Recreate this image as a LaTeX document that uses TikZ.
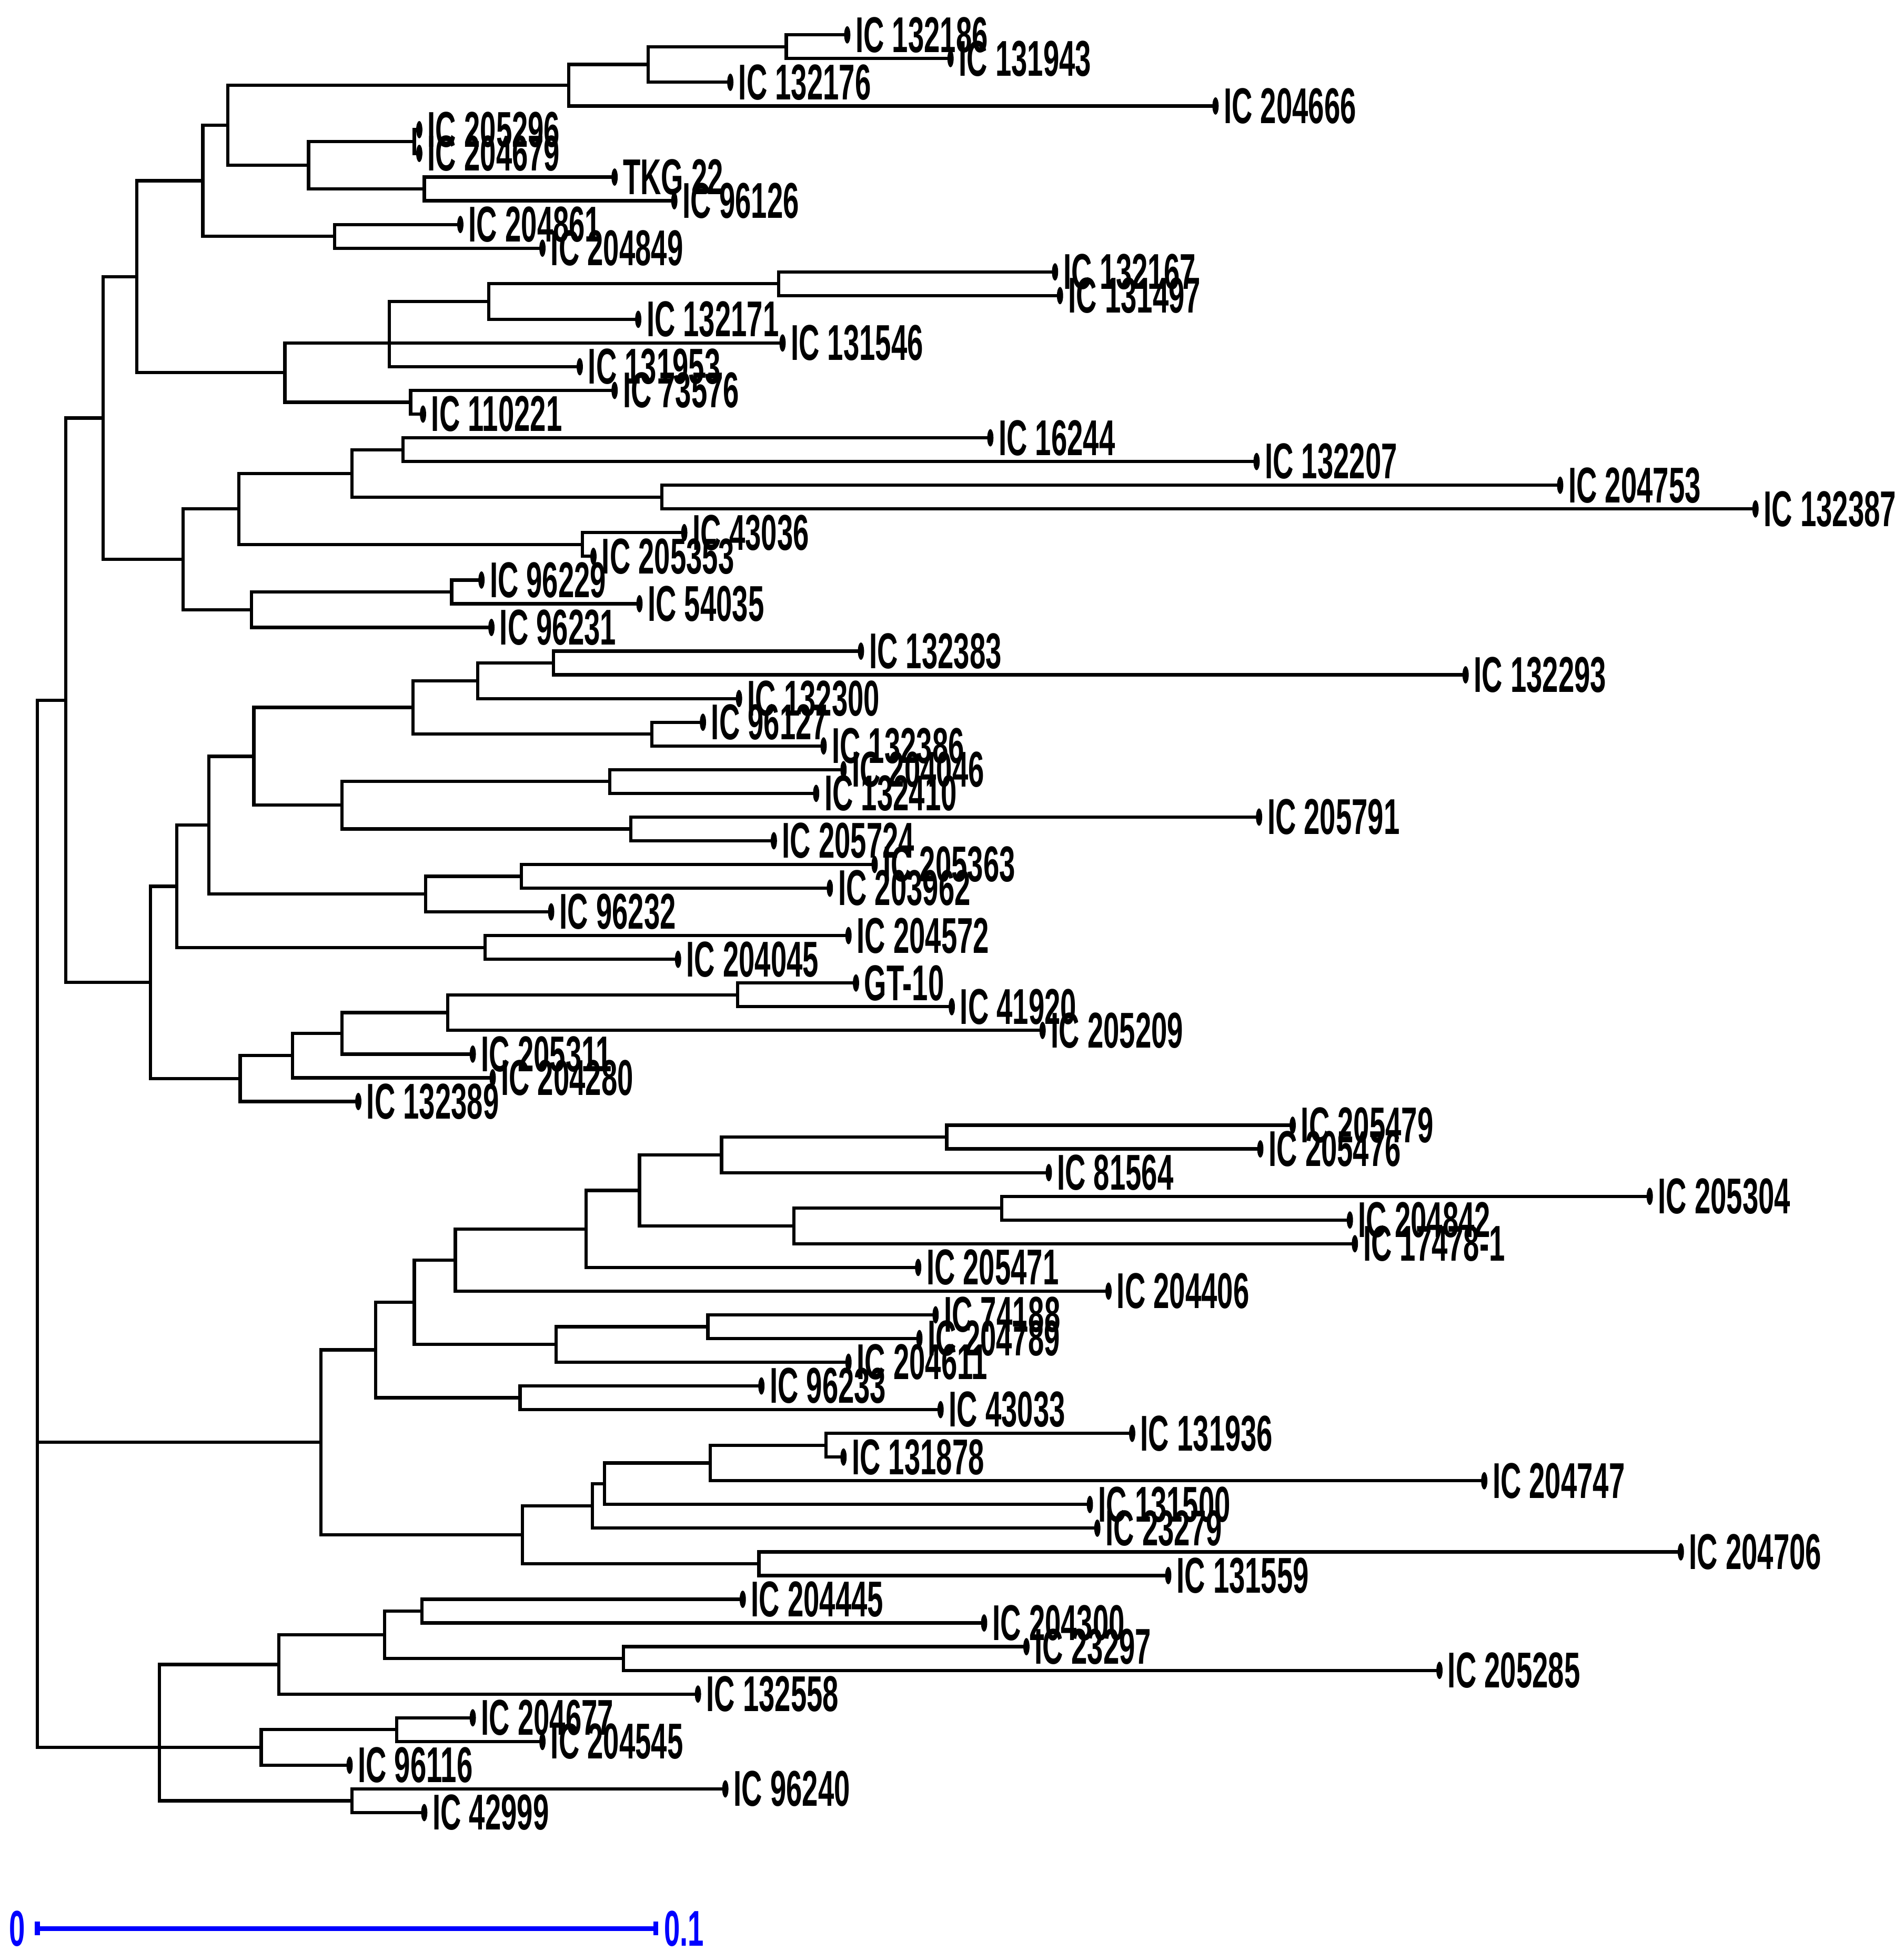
\documentclass[tikz,border=0pt]{standalone}
\usepackage{fontspec}
\setmainfont{Liberation Sans}
\usepackage{graphicx}
\usetikzlibrary{positioning,calc}

% leaf rows are evenly spaced
\newcommand{\row}[1]{28+19.05*#1}
\newcommand{\lbl}[1]{\scalebox{0.57}[1]{#1}}

\def\leaves{0/681/IC 132186, 1/764/IC 131943, 2/587/IC 132176, 3/977/IC 204666,
  4/337/IC 205296, 5/337/IC 204679, 6/494/TKG 22, 7/542/IC 96126,
  8/370/IC 204861, 9/436/IC 204849, 10/848/IC 132167, 11/852/IC 131497,
  12/513/IC 132171, 13/629/IC 131546, 14/466/IC 131953, 15/494/IC 73576,
  16/340/IC 110221, 17/796/IC 16244, 18/1010/IC 132207, 19/1254/IC 204753,
  20/1411/IC 132387, 21/550/IC 43036, 22/477/IC 205353, 23/387/IC 96229,
  24/514/IC 54035, 25/395/IC 96231, 26/692/IC 132383, 27/1178/IC 132293,
  28/594/IC 132300, 29/565/IC 96127, 30/662/IC 132386, 31/678/IC 204046,
  32/656/IC 132410, 33/1012/IC 205791, 34/622/IC 205724, 35/703/IC 205363,
  36/667/IC 203962, 37/443/IC 96232, 38/682/IC 204572, 39/545/IC 204045,
  40/688/GT-10, 41/765/IC 41920, 42/838/IC 205209, 43/380/IC 205311,
  44/396/IC 204280, 45/288/IC 132389, 46/1039/IC 205479, 47/1013/IC 205476,
  48/843/IC 81564, 49/1326/IC 205304, 50/1085/IC 204842, 51/1089/IC 17478-1,
  52/738/IC 205471, 53/891/IC 204406, 54/752/IC 74188, 55/739/IC 204789,
  56/682/IC 204611, 57/612/IC 96233, 58/756/IC 43033, 59/910/IC 131936,
  60/678/IC 131878, 61/1193/IC 204747, 62/876/IC 131500, 63/882/IC 23279,
  64/1351/IC 204706, 65/939/IC 131559, 66/597/IC 204445, 67/791/IC 204300,
  68/825/IC 23297, 69/1157/IC 205285, 70/561/IC 132558, 71/380/IC 204677,
  72/436/IC 204545, 73/281/IC 96116, 74/583/IC 96240, 75/341/IC 42999}

\begin{document}
\begin{tikzpicture}[x=0.01cm, y=-0.01cm,
    branch/.style={line width=0.75pt, line cap=rect},
    tipdot/.style={fill=black},
    leaf/.style={anchor=west, inner sep=0pt, xshift=0.06cm, font=\fontsize{11.5}{12}\selectfont\bfseries},
    scalebar/.style={blue, line width=1.1pt},
    barlabel/.style={blue, inner sep=0pt, font=\fontsize{11.5}{12}\selectfont\bfseries}]

    \useasboundingbox (0,0) rectangle (1530,1568);

    % Leaves and their names
    \foreach \i/\tx/\nm in \leaves {
        \coordinate (t\i) at (\tx,{\row{\i}});
        \node[leaf] (n\i) at (t\i) {\lbl{\nm}};
    }

    % Internal nodes
    \coordinate (root) at (30,{\row{59.38}});
    \coordinate (A) at (53,{\row{28.07}});
    \coordinate (B) at (83,{\row{16.164}});
    \coordinate (B1) at (110,{\row{10.203}});
    \coordinate (D) at (163,{\row{6.156}});
    \coordinate (D1) at (183,{\row{3.8125}});
    \coordinate (F) at (457,{\row{2.125}});
    \coordinate (F1) at (521,{\row{1.25}});
    \coordinate (F2) at (632,{\row{0.5}});
    \coordinate (G) at (248,{\row{5.5}});
    \coordinate (G1) at (333,{\row{4.5}});
    \coordinate (G2) at (341,{\row{6.5}});
    \coordinate (D2) at (269,{\row{8.5}});
    \coordinate (E) at (229,{\row{14.25}});
    \coordinate (I) at (313,{\row{13}});
    \coordinate (H) at (393,{\row{11.25}});
    \coordinate (H1) at (626,{\row{10.5}});
    \coordinate (J) at (330,{\row{15.5}});
    \coordinate (B2) at (147,{\row{22.125}});
    \coordinate (K) at (192,{\row{20}});
    \coordinate (M) at (283,{\row{18.5}});
    \coordinate (M1) at (324,{\row{17.5}});
    \coordinate (M2) at (532,{\row{19.5}});
    \coordinate (N) at (468,{\row{21.5}});
    \coordinate (L) at (202,{\row{24.25}});
    \coordinate (O) at (363,{\row{23.5}});
    \coordinate (C) at (121,{\row{39.98}});
    \coordinate (P) at (142,{\row{35.92}});
    \coordinate (R) at (168,{\row{33.34}});
    \coordinate (T) at (204,{\row{30.4375}});
    \coordinate (V) at (332,{\row{28.375}});
    \coordinate (V1) at (384,{\row{27.25}});
    \coordinate (V3) at (445,{\row{26.5}});
    \coordinate (V2) at (524,{\row{29.5}});
    \coordinate (W) at (275,{\row{32.5}});
    \coordinate (W1) at (490,{\row{31.5}});
    \coordinate (W2) at (507,{\row{33.5}});
    \coordinate (U) at (342,{\row{36.25}});
    \coordinate (U1) at (419,{\row{35.5}});
    \coordinate (S) at (390,{\row{38.5}});
    \coordinate (Q) at (193,{\row{44.03}});
    \coordinate (Q1) at (235,{\row{43.06}});
    \coordinate (Q2) at (275,{\row{42.125}});
    \coordinate (Q3) at (360,{\row{41.25}});
    \coordinate (Q4) at (593,{\row{40.5}});
    \coordinate (X) at (258,{\row{59.38}});
    \coordinate (X1) at (302,{\row{55.48}});
    \coordinate (X3) at (333,{\row{53.47}});
    \coordinate (X5) at (366,{\row{51.6875}});
    \coordinate (X7) at (471,{\row{50.375}});
    \coordinate (X8) at (514,{\row{48.75}});
    \coordinate (X9) at (580,{\row{47.25}});
    \coordinate (X11) at (761,{\row{46.5}});
    \coordinate (X10) at (638,{\row{50.25}});
    \coordinate (X12) at (805,{\row{49.5}});
    \coordinate (X6) at (447,{\row{55.25}});
    \coordinate (X13) at (569,{\row{54.5}});
    \coordinate (X4) at (418,{\row{57.5}});
    \coordinate (X2) at (420,{\row{63.28}});
    \coordinate (X14) at (476,{\row{62.06}});
    \coordinate (X16) at (486,{\row{61.125}});
    \coordinate (X17) at (571,{\row{60.25}});
    \coordinate (X18) at (664,{\row{59.5}});
    \coordinate (X15) at (610,{\row{64.5}});
    \coordinate (Y) at (128,{\row{72.25}});
    \coordinate (Y1) at (224,{\row{68.75}});
    \coordinate (Y4) at (309,{\row{67.5}});
    \coordinate (Y5) at (339,{\row{66.5}});
    \coordinate (Y6) at (501,{\row{68.5}});
    \coordinate (Y2) at (210,{\row{72.25}});
    \coordinate (Y7) at (319,{\row{71.5}});
    \coordinate (Y3) at (283,{\row{74.5}});

    % Root and first clade
    \draw[branch] (root) |- (A) (root) |- (X) (root) |- (Y);
    \draw[branch] (A) |- (B) (A) |- (C);
    \draw[branch] (B) |- (B1) (B) |- (B2);
    \draw[branch] (B1) |- (D) (B1) |- (E);
    \draw[branch] (D) |- (D1) (D) |- (D2);
    \draw[branch] (D1) |- (F) (D1) |- (G);
    \draw[branch] (F) |- (F1) (F) |- (t3);
    \draw[branch] (F1) |- (F2) (F1) |- (t2);
    \draw[branch] (F2) |- (t0) (F2) |- (t1);
    \draw[branch] (G) |- (G1) (G) |- (G2);
    \draw[branch] (G1) |- (t4) (G1) |- (t5);
    \draw[branch] (G2) |- (t6) (G2) |- (t7);
    \draw[branch] (D2) |- (t8) (D2) |- (t9);
    \draw[branch] (E) |- (I) (E) |- (J);
    \draw[branch] (I) |- (H) (I) |- (t13) (I) |- (t14);
    \draw[branch] (H) |- (H1) (H) |- (t12);
    \draw[branch] (H1) |- (t10) (H1) |- (t11);
    \draw[branch] (J) |- (t15) (J) |- (t16);
    \draw[branch] (B2) |- (K) (B2) |- (L);
    \draw[branch] (K) |- (M) (K) |- (N);
    \draw[branch] (M) |- (M1) (M) |- (M2);
    \draw[branch] (M1) |- (t17) (M1) |- (t18);
    \draw[branch] (M2) |- (t19) (M2) |- (t20);
    \draw[branch] (N) |- (t21) (N) |- (t22);
    \draw[branch] (L) |- (O) (L) |- (t25);
    \draw[branch] (O) |- (t23) (O) |- (t24);

    % Second part of the first clade
    \draw[branch] (C) |- (P) (C) |- (Q);
    \draw[branch] (P) |- (R) (P) |- (S);
    \draw[branch] (R) |- (T) (R) |- (U);
    \draw[branch] (T) |- (V) (T) |- (W);
    \draw[branch] (V) |- (V1) (V) |- (V2);
    \draw[branch] (V1) |- (V3) (V1) |- (t28);
    \draw[branch] (V3) |- (t26) (V3) |- (t27);
    \draw[branch] (V2) |- (t29) (V2) |- (t30);
    \draw[branch] (W) |- (W1) (W) |- (W2);
    \draw[branch] (W1) |- (t31) (W1) |- (t32);
    \draw[branch] (W2) |- (t33) (W2) |- (t34);
    \draw[branch] (U) |- (U1) (U) |- (t37);
    \draw[branch] (U1) |- (t35) (U1) |- (t36);
    \draw[branch] (S) |- (t38) (S) |- (t39);
    \draw[branch] (Q) |- (Q1) (Q) |- (t45);
    \draw[branch] (Q1) |- (Q2) (Q1) |- (t44);
    \draw[branch] (Q2) |- (Q3) (Q2) |- (t43);
    \draw[branch] (Q3) |- (Q4) (Q3) |- (t42);
    \draw[branch] (Q4) |- (t40) (Q4) |- (t41);

    % Middle clade
    \draw[branch] (X) |- (X1) (X) |- (X2);
    \draw[branch] (X1) |- (X3) (X1) |- (X4);
    \draw[branch] (X3) |- (X5) (X3) |- (X6);
    \draw[branch] (X5) |- (X7) (X5) |- (t53);
    \draw[branch] (X7) |- (X8) (X7) |- (t52);
    \draw[branch] (X8) |- (X9) (X8) |- (X10);
    \draw[branch] (X9) |- (X11) (X9) |- (t48);
    \draw[branch] (X11) |- (t46) (X11) |- (t47);
    \draw[branch] (X10) |- (X12) (X10) |- (t51);
    \draw[branch] (X12) |- (t49) (X12) |- (t50);
    \draw[branch] (X6) |- (X13) (X6) |- (t56);
    \draw[branch] (X13) |- (t54) (X13) |- (t55);
    \draw[branch] (X4) |- (t57) (X4) |- (t58);
    \draw[branch] (X2) |- (X14) (X2) |- (X15);
    \draw[branch] (X14) |- (X16) (X14) |- (t63);
    \draw[branch] (X16) |- (X17) (X16) |- (t62);
    \draw[branch] (X17) |- (X18) (X17) |- (t61);
    \draw[branch] (X18) |- (t59) (X18) |- (t60);
    \draw[branch] (X15) |- (t64) (X15) |- (t65);

    % Bottom clade
    \draw[branch] (Y) |- (Y1) (Y) |- (Y2) (Y) |- (Y3);
    \draw[branch] (Y1) |- (Y4) (Y1) |- (t70);
    \draw[branch] (Y4) |- (Y5) (Y4) |- (Y6);
    \draw[branch] (Y5) |- (t66) (Y5) |- (t67);
    \draw[branch] (Y6) |- (t68) (Y6) |- (t69);
    \draw[branch] (Y2) |- (Y7) (Y2) |- (t73);
    \draw[branch] (Y7) |- (t71) (Y7) |- (t72);
    \draw[branch] (Y3) |- (t74) (Y3) |- (t75);

    % Tip markers
    \foreach \i in {0,...,75}
        \fill[tipdot] (t\i) ellipse [x radius=0.025cm, y radius=0.07cm];

    % Scale bar
    \coordinate (sb0) at (30,1550);
    \coordinate (sb1) at (527,1550);
    \draw[scalebar] (sb0) -- (sb1);
    \draw[scalebar] ([yshift=0.055cm]sb0) -- ([yshift=-0.055cm]sb0);
    \draw[scalebar] ([yshift=0.055cm]sb1) -- ([yshift=-0.055cm]sb1);
    \node[barlabel, anchor=east] (zero) at ([xshift=-0.09cm]sb0) {\lbl{0}};
    \node[barlabel, anchor=west] (tenth) at ([xshift=0.06cm]sb1) {\lbl{0.1}};
\end{tikzpicture}
\end{document}
